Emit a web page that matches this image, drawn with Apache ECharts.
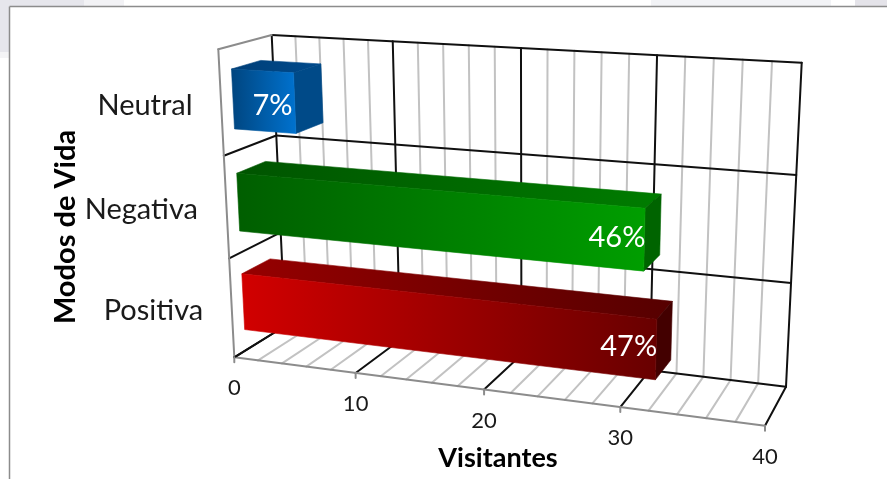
<!DOCTYPE html>
<html><head><meta charset="utf-8">
<style>html,body{margin:0;padding:0;background:#fff}#c{width:887px;height:479px}</style>
<script src="https://cdn.jsdelivr.net/npm/echarts@6/dist/echarts.min.js"></script>
</head><body><div id="c"></div>
<script>
const categories = ['Positiva', 'Negativa', 'Neutral'];
const visitantes = [32, 31, 5];
const shareLabels = ['47%', '46%', '7%'];
const majorTicks = [0, 10, 20, 30, 40];
const minorTicks = [2, 4, 6, 8, 12, 14, 16, 18, 22, 24, 26, 28, 32, 34, 36, 38];
const tickLabels = ['0', '10', '20', '30', '40'];

// projection of the chart box: unit square -> picture (front plane, back plane)
function homography(p) {
  const [[x0,y0],[x1,y1],[x2,y2],[x3,y3]] = p;
  const sx=x0-x1+x2-x3, sy=y0-y1+y2-y3, dx1=x1-x2, dx2=x3-x2, dy1=y1-y2, dy2=y3-y2;
  const det=dx1*dy2-dx2*dy1, g=(sx*dy2-dx2*sy)/det, h=(dx1*sy-sx*dy1)/det;
  const a=x1-x0+g*x1, b=x3-x0+h*x3, d=y1-y0+g*y1, e=y3-y0+h*y3;
  return (u,v)=>{const t=g*u+h*v+1; return [(a*u+b*v+x0)/t,(d*u+e*v+y0)/t];};
}
const frontPlane = homography([[234.3,357.3],[765,425.7],[780.7,81.2],[218.3,49.3]]);
const backPlane  = homography([[285,326],[786,386.7],[801.7,62.7],[271.7,35]]);
const G = {left:100, top:50, width:600, height:300};
function project(px, py, w) {
  const u=(px-G.left)/G.width, v=(G.top+G.height-py)/G.height;
  const f=frontPlane(u,v), b=backPlane(u,v);
  return [f[0]+(b[0]-f[0])*w, f[1]+(b[1]-f[1])*w];
}
const LG = (s,e)=>new echarts.graphic.LinearGradient(0,0,1,0,[{offset:0,color:s},{offset:1,color:e}]);
const barStyles = [
  {front:LG('#d20000','#680000'), top:LG('#960000','#560000'), side:'#430000'},
  {front:LG('#005e00','#009e00'), top:LG('#005400','#007c00'), side:'#006400'},
  {front:LG('#00457f','#0072cf'), top:LG('#003f78','#004a8c'), side:'#004a88'}
];
const BAR_FRACTION = 0.57, W0 = 0.225, W1 = 0.775;
const FONT = 'Lato';

function line(a,b,color,width){
  return {type:'line',shape:{x1:a[0],y1:a[1],x2:b[0],y2:b[1]},style:{stroke:color,lineWidth:width,lineCap:'round'},silent:true};
}
const BLACK='#101010', GRAY='#c2c2c2', EDGE='#8c8c8c';

function renderFrame(params, api){
  const ch=[];
  const x0=api.coord([0,0])[0], x40=api.coord([40,0])[0];
  const band=api.size([0,1])[1];
  const yBot=api.coord([0,0])[1]+band/2, yTop=api.coord([0,categories.length-1])[1]-band/2;
  const seg=(xa,ya,wa,xb,yb,wb,c,l)=>ch.push(line(project(xa,ya,wa),project(xb,yb,wb),c,l));
  minorTicks.forEach(t=>{const x=api.coord([t,0])[0];
    seg(x,yBot,0,x,yBot,1,GRAY,2);
    seg(x,yBot,1,x,yTop,1,GRAY,2);
  });
  categories.forEach((c,i)=>{ const y=api.coord([0,i])[1]-band/2;
    seg(x40,y,1,x0,y,1,BLACK,2);
    if(i<categories.length-1) seg(x0,y,0,x0,y,1,BLACK,2);
  });
  seg(x0,yBot,1,x40,yBot,1,BLACK,2);
  majorTicks.forEach(t=>{const x=api.coord([t,0])[0];
    seg(x,yBot,0,x,yBot,1,BLACK,2);
    seg(x,yBot,1,x,yTop,1,BLACK,2);
  });
  seg(x0,yBot,0,x0,yTop,0,EDGE,2);
  seg(x0,yTop,0,x0,yTop,1,EDGE,2);
  seg(x0,yBot,0,x40,yBot,0,EDGE,2);
  seg(x0,yBot,0,x0,yBot,1,BLACK,2);
  majorTicks.forEach((t,i)=>{const p=project(api.coord([t,0])[0],yBot,0);
    ch.push(line(p,[p[0],p[1]+5],EDGE,2));
    ch.push({type:'text',style:{x:p[0],y:p[1]+31,text:tickLabels[i],fill:'#1a1a1a',font:'22px '+FONT,textAlign:'center',textVerticalAlign:'middle'},silent:true});
  });
  categories.forEach((c,i)=>{const y=api.coord([0,i])[1]; const p=project(x0,y,0);
    ch.push({type:'text',style:{x:p[0]-28.5,y:p[1]+2.5,text:c,fill:'#1a1a1a',font:'29px '+FONT,textAlign:'right',textVerticalAlign:'middle'},silent:true});
  });
  return {type:'group',children:ch};
}
function renderBar(params, api){
  const i=api.value(1), val=api.value(0);
  const x0=api.coord([0,i])[0], x1=api.coord([val,i])[0], yc=api.coord([0,i])[1];
  const h=api.size([0,1])[1]*BAR_FRACTION/2, yT=yc-h, yB=yc+h, st=barStyles[i];
  const P=(x,y,w)=>project(x,y,w);
  const poly=(pts,fill)=>({type:'polygon',shape:{points:pts},style:{fill:fill,stroke:fill,lineWidth:0.6},silent:true});
  const fr=[P(x0,yT,W0),P(x1,yT,W0),P(x1,yB,W0),P(x0,yB,W0)];
  const tp=[P(x0,yT,W0),P(x1,yT,W0),P(x1,yT,W1),P(x0,yT,W1)];
  const sd=[P(x1,yT,W0),P(x1,yT,W1),P(x1,yB,W1),P(x1,yB,W0)];
  const cy=(fr[1][1]+fr[2][1])/2;
  return {type:'group',children:[poly(tp,st.top),poly(sd,st.side),poly(fr,st.front),
    {type:'text',style:{x:i===2?(fr[0][0]+fr[1][0])/2+10:fr[1][0]+0.3,y:cy+(i===2?2:-2.5),text:shareLabels[i],fill:'#fff',font:'29px '+FONT,textAlign:i===2?'center':'right',textVerticalAlign:'middle'},silent:true}
  ]};
}
const chart=echarts.init(document.getElementById('c'),null,{renderer:'canvas'});
const patch=(x,y,w,h,c)=>({type:'rect',shape:{x:x,y:y,width:w,height:h},style:{fill:c},z:-1,silent:true});
chart.setOption({
  animation:false,
  backgroundColor:'#fff',
  grid:G,
  xAxis:{type:'value',min:0,max:40,interval:10,show:false},
  yAxis:{type:'category',data:categories,show:false},
  graphic:[
    patch(0,0,84,6,'#e6e6ec'), patch(84,0,40,6,'#f2f2f5'),
    patch(651,0,180,6,'#f2f3f6'), patch(855,0,32,6,'#e4e3e9'),
    patch(0,0,9,52,'#e6e6ec'), patch(0,52,9,6,'#f4f4f6'),
    {type:'line',shape:{x1:9.5,y1:6.5,x2:887,y2:6.5},style:{stroke:'#8c8c8c',lineWidth:1.5},silent:true},
    {type:'line',shape:{x1:9.5,y1:6.5,x2:9.5,y2:479},style:{stroke:'#8c8c8c',lineWidth:1.5},silent:true},
    {type:'text',style:{x:498,y:458,text:'Visitantes',fill:'#000',font:'bold 27px '+FONT,textAlign:'center',textVerticalAlign:'middle'},silent:true},
    {type:'text',rotation:Math.PI/2,x:66,y:227,style:{x:0,y:0,text:'Modos de Vida',fill:'#000',font:'bold 29px '+FONT,textAlign:'center',textVerticalAlign:'middle'},silent:true}
  ],
  series:[
    {type:'custom',coordinateSystem:'cartesian2d',data:[[0,0]],renderItem:renderFrame,clip:false,z:1,silent:true},
    {type:'custom',coordinateSystem:'cartesian2d',data:visitantes.map((v,i)=>[v,i]),encode:{x:0,y:1},renderItem:renderBar,clip:false,z:2,silent:true}
  ]
});
</script></body></html>
